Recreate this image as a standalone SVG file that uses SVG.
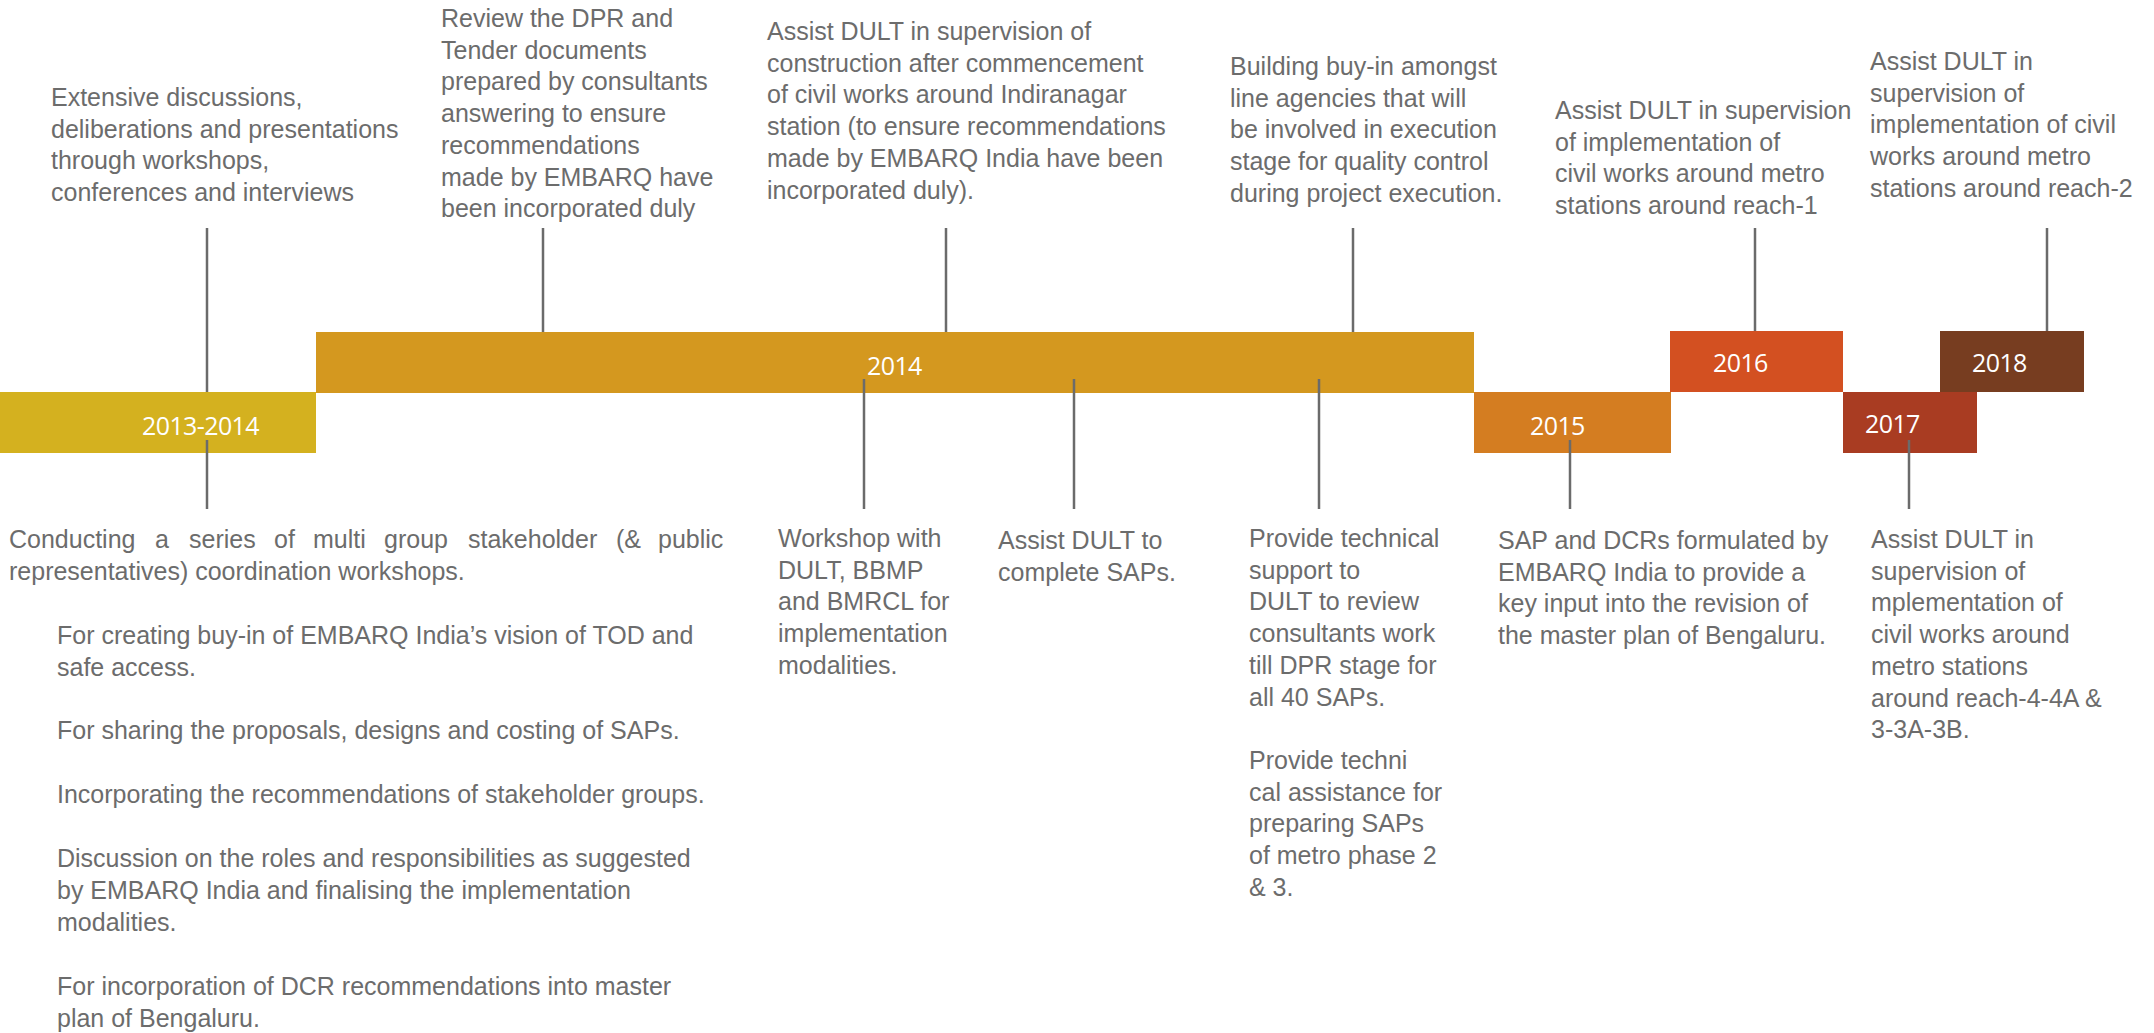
<svg xmlns="http://www.w3.org/2000/svg" width="2154" height="1033" viewBox="0 0 2154 1033">
  <style>
    .t { font-family: "Liberation Sans", Arial, sans-serif; font-size: 25px; fill: #6c6c6c; }
    .yr { font-family: "Open Sans", "Liberation Sans", sans-serif; font-size: 25px; fill: #ffffff; letter-spacing: -0.6px; }
    .ln { stroke: #6b6b6b; stroke-width: 2.5; fill: none; }
  </style>
  <rect width="2154" height="1033" fill="#ffffff"/>

  <!-- year bars -->
  <g id="bar-2013-2014">
    <rect x="0" y="392" width="316" height="61" fill="#D4B11F"/>
    <text class="yr" x="142" y="435">2013-2014</text>
  </g>
  <g id="bar-2014">
    <rect x="316" y="332" width="1158" height="61" fill="#D4981F"/>
    <text class="yr" x="867" y="375">2014</text>
  </g>
  <g id="bar-2015">
    <rect x="1474" y="392" width="197" height="61" fill="#D47D21"/>
    <text class="yr" x="1530" y="435">2015</text>
  </g>
  <g id="bar-2016">
    <rect x="1670" y="331" width="173" height="61" fill="#D35021"/>
    <text class="yr" x="1713" y="372">2016</text>
  </g>
  <g id="bar-2017">
    <rect x="1843" y="392" width="134" height="61" fill="#A93C22"/>
    <text class="yr" x="1865" y="433">2017</text>
  </g>
  <g id="bar-2018">
    <rect x="1940" y="331" width="144" height="61" fill="#773D20"/>
    <text class="yr" x="1972" y="372">2018</text>
  </g>

  <!-- leader lines between bars and notes -->
  <g id="connectors">
    <line class="ln" x1="207" y1="228" x2="207" y2="392"/>
    <line class="ln" x1="543" y1="228" x2="543" y2="332"/>
    <line class="ln" x1="946" y1="228" x2="946" y2="332"/>
    <line class="ln" x1="1353" y1="228" x2="1353" y2="332"/>
    <line class="ln" x1="1755" y1="228" x2="1755" y2="331"/>
    <line class="ln" x1="2047" y1="228" x2="2047" y2="331"/>
    <line class="ln" x1="207" y1="440" x2="207" y2="509"/>
    <line class="ln" x1="864" y1="379" x2="864" y2="509"/>
    <line class="ln" x1="1074" y1="379" x2="1074" y2="509"/>
    <line class="ln" x1="1319" y1="379" x2="1319" y2="509"/>
    <line class="ln" x1="1570" y1="440" x2="1570" y2="509"/>
    <line class="ln" x1="1909" y1="440" x2="1909" y2="509"/>
  </g>

  <!-- notes above the bars -->
  <g id="note-discussions">
    <text class="t">
      <tspan x="51" y="106">Extensive discussions,</tspan>
      <tspan x="51" y="137.7">deliberations and presentations</tspan>
      <tspan x="51" y="169.4">through workshops,</tspan>
      <tspan x="51" y="201.1">conferences and interviews</tspan>
    </text>
  </g>
  <g id="note-review-dpr">
    <text class="t">
      <tspan x="441" y="27">Review the DPR and</tspan>
      <tspan x="441" y="58.7">Tender documents</tspan>
      <tspan x="441" y="90.4">prepared by consultants</tspan>
      <tspan x="441" y="122.1">answering to ensure</tspan>
      <tspan x="441" y="153.8">recommendations</tspan>
      <tspan x="441" y="185.5">made by EMBARQ have</tspan>
      <tspan x="441" y="217.2">been incorporated duly</tspan>
    </text>
  </g>
  <g id="note-indiranagar">
    <text class="t">
      <tspan x="767" y="40">Assist DULT in supervision of</tspan>
      <tspan x="767" y="71.7">construction after commencement</tspan>
      <tspan x="767" y="103.4">of civil works around Indiranagar</tspan>
      <tspan x="767" y="135.1">station (to ensure recommendations</tspan>
      <tspan x="767" y="166.8">made by EMBARQ India have been</tspan>
      <tspan x="767" y="198.5">incorporated duly).</tspan>
    </text>
  </g>
  <g id="note-line-agencies">
    <text class="t">
      <tspan x="1230" y="75">Building buy-in amongst</tspan>
      <tspan x="1230" y="106.7">line agencies that will</tspan>
      <tspan x="1230" y="138.4">be involved in execution</tspan>
      <tspan x="1230" y="170.1">stage for quality control</tspan>
      <tspan x="1230" y="201.8">during project execution.</tspan>
    </text>
  </g>
  <g id="note-reach-1">
    <text class="t">
      <tspan x="1555" y="119">Assist DULT in supervision</tspan>
      <tspan x="1555" y="150.7">of implementation of</tspan>
      <tspan x="1555" y="182.4">civil works around metro</tspan>
      <tspan x="1555" y="214.1">stations around reach-1</tspan>
    </text>
  </g>
  <g id="note-reach-2">
    <text class="t">
      <tspan x="1870" y="70">Assist DULT in</tspan>
      <tspan x="1870" y="101.7">supervision of</tspan>
      <tspan x="1870" y="133.4">implementation of civil</tspan>
      <tspan x="1870" y="165.1">works around metro</tspan>
      <tspan x="1870" y="196.8">stations around reach-2</tspan>
    </text>
  </g>

  <!-- notes below the bars -->
  <g id="note-workshops">
    <text class="t">
      <tspan x="9" y="548">Conducting</tspan><tspan x="155" y="548">a</tspan><tspan x="189" y="548">series</tspan><tspan x="274" y="548">of</tspan><tspan x="313" y="548">multi</tspan><tspan x="384" y="548">group</tspan><tspan x="468" y="548">stakeholder</tspan><tspan x="616" y="548">(&amp;</tspan><tspan x="658" y="548">public</tspan>
      <tspan x="9" y="579.9">representatives) coordination workshops.</tspan>
      <tspan x="57" y="643.7">For creating buy-in of EMBARQ India’s vision of TOD and</tspan>
      <tspan x="57" y="675.6">safe access.</tspan>
      <tspan x="57" y="739.4">For sharing the proposals, designs and costing of SAPs.</tspan>
      <tspan x="57" y="803.2">Incorporating the recommendations of stakeholder groups.</tspan>
      <tspan x="57" y="867">Discussion on the roles and responsibilities as suggested</tspan>
      <tspan x="57" y="898.9">by EMBARQ India and finalising the implementation</tspan>
      <tspan x="57" y="930.8">modalities.</tspan>
      <tspan x="57" y="994.6">For incorporation of DCR recommendations into master</tspan>
      <tspan x="57" y="1026.5">plan of Bengaluru.</tspan>
    </text>
  </g>
  <g id="note-modalities">
    <text class="t">
      <tspan x="778" y="547">Workshop with</tspan>
      <tspan x="778" y="578.7">DULT, BBMP</tspan>
      <tspan x="778" y="610.4">and BMRCL for</tspan>
      <tspan x="778" y="642.1">implementation</tspan>
      <tspan x="778" y="673.8">modalities.</tspan>
    </text>
  </g>
  <g id="note-complete-saps">
    <text class="t">
      <tspan x="998" y="549">Assist DULT to</tspan>
      <tspan x="998" y="580.7">complete SAPs.</tspan>
    </text>
  </g>
  <g id="note-technical-support">
    <text class="t">
      <tspan x="1249" y="547">Provide technical</tspan>
      <tspan x="1249" y="578.7">support to</tspan>
      <tspan x="1249" y="610.4">DULT to review</tspan>
      <tspan x="1249" y="642.1">consultants work</tspan>
      <tspan x="1249" y="673.8">till DPR stage for</tspan>
      <tspan x="1249" y="705.5">all 40 SAPs.</tspan>
      <tspan x="1249" y="768.9">Provide techni</tspan>
      <tspan x="1249" y="800.6">cal assistance for</tspan>
      <tspan x="1249" y="832.3">preparing SAPs</tspan>
      <tspan x="1249" y="864">of metro phase 2</tspan>
      <tspan x="1249" y="895.7">&amp; 3.</tspan>
    </text>
  </g>
  <g id="note-master-plan">
    <text class="t">
      <tspan x="1498" y="549">SAP and DCRs formulated by</tspan>
      <tspan x="1498" y="580.7">EMBARQ India to provide a</tspan>
      <tspan x="1498" y="612.4">key input into the revision of</tspan>
      <tspan x="1498" y="644.1">the master plan of Bengaluru.</tspan>
    </text>
  </g>
  <g id="note-reach-4">
    <text class="t">
      <tspan x="1871" y="548">Assist DULT in</tspan>
      <tspan x="1871" y="579.7">supervision of</tspan>
      <tspan x="1871" y="611.4">mplementation of</tspan>
      <tspan x="1871" y="643.1">civil works around</tspan>
      <tspan x="1871" y="674.8">metro stations</tspan>
      <tspan x="1871" y="706.5">around reach-4-4A &amp;</tspan>
      <tspan x="1871" y="738.2">3-3A-3B.</tspan>
    </text>
  </g>
</svg>
